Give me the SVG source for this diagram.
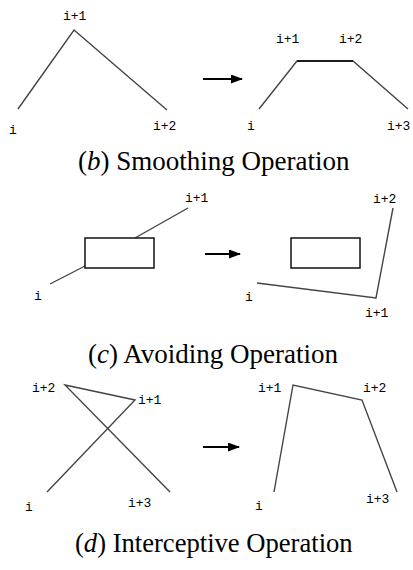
<svg xmlns="http://www.w3.org/2000/svg" width="413" height="570" viewBox="0 0 413 570">
<style>
.ln{fill:none;stroke:#444;stroke-width:1.4;stroke-linejoin:miter}
.box{fill:#fff;stroke:#111;stroke-width:1.5}
.lb{font-family:"Liberation Mono","DejaVu Sans Mono",monospace;font-size:13px;fill:#000}
.cap{font-family:"Liberation Serif","Times New Roman",serif;font-size:27px;fill:#000}
.arr{stroke:#000;stroke-width:1.8;fill:none}
</style>
<defs>
<marker id="ah" markerWidth="12" markerHeight="9" refX="11" refY="4.5" orient="auto" markerUnits="userSpaceOnUse">
<path d="M0,0 L12,4.5 L0,9 z" fill="#000"/>
</marker>
</defs>
<g id="connectors">
<line class="arr" x1="203" y1="79" x2="242" y2="79" marker-end="url(#ah)"/>
<line class="arr" x1="205" y1="254" x2="240" y2="254" marker-end="url(#ah)"/>
<line class="arr" x1="203" y1="447" x2="239" y2="447" marker-end="url(#ah)"/>
</g>
<g id="panel-b">
<polyline class="ln" points="18,109 74,30 167,110"/>
<text class="lb" x="63" y="20">i+1</text>
<text class="lb" x="9" y="134">i</text>
<text class="lb" x="153" y="130">i+2</text>
<polyline class="ln" points="259,109 297,61 353,61 408,109"/>
<line x1="297" y1="61" x2="353" y2="61" stroke="#000" stroke-width="1.5"/>
<text class="lb" x="276" y="43">i+1</text>
<text class="lb" x="339" y="43">i+2</text>
<text class="lb" x="247" y="130">i</text>
<text class="lb" x="387" y="130">i+3</text>
<text class="cap" x="78" y="170">(<tspan font-style="italic">b</tspan>) Smoothing Operation</text>
</g>
<g id="panel-c">
<line class="ln" x1="50" y1="284" x2="85" y2="266"/>
<line class="ln" x1="135" y1="238" x2="188" y2="208"/>
<rect class="box" x="85" y="238" width="69" height="30"/>
<text class="lb" x="185" y="202">i+1</text>
<text class="lb" x="34" y="300">i</text>
<rect class="box" x="291" y="238" width="69" height="30"/>
<polyline class="ln" points="257,283 376,298 393,208"/>
<text class="lb" x="373" y="203">i+2</text>
<text class="lb" x="245" y="301">i</text>
<text class="lb" x="365" y="317">i+1</text>
<text class="cap" x="88" y="363">(<tspan font-style="italic">c</tspan>) Avoiding Operation</text>
</g>
<g id="panel-d">
<polyline class="ln" points="47,492 135,400 65,385 170,492"/>
<text class="lb" x="32" y="392">i+2</text>
<text class="lb" x="138" y="404">i+1</text>
<text class="lb" x="25" y="511">i</text>
<text class="lb" x="128" y="507">i+3</text>
<polyline class="ln" points="274,492 293,385 362,400 397,492"/>
<text class="lb" x="258" y="392">i+1</text>
<text class="lb" x="363" y="392">i+2</text>
<text class="lb" x="255" y="510">i</text>
<text class="lb" x="366" y="503">i+3</text>
<text class="cap" x="75" y="552" style="font-size:26.6px">(<tspan font-style="italic">d</tspan>) Interceptive Operation</text>
</g>
</svg>
